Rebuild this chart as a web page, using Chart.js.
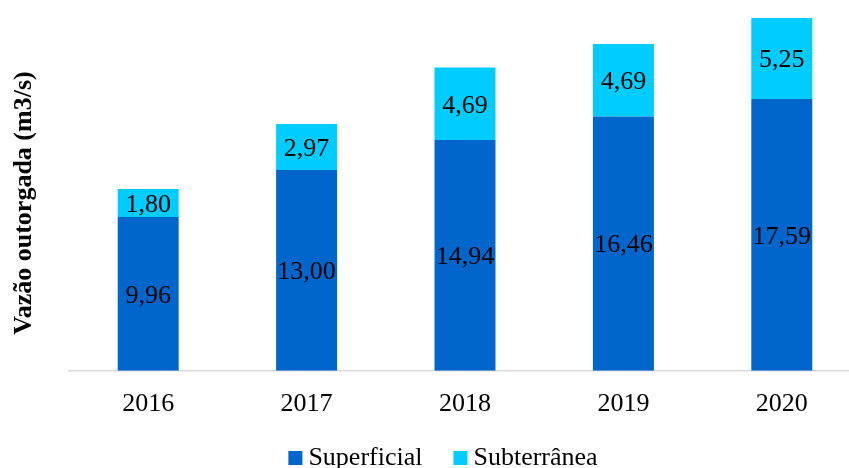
<!DOCTYPE html>
<html lang="pt">
<head>
  <meta charset="UTF-8" />
  <title>Vazão outorgada por ano</title>
  <script src="https://cdn.jsdelivr.net/npm/chart.js"></script>
  <style>
    html, body {
      margin: 0;
      padding: 0;
      background: #fff;
      overflow: hidden;
    }
    #chartBox {
      position: absolute;
      left: 0;
      top: 0;
    }
  </style>
</head>
<body>
  <div id="chartBox">
    <canvas id="vazaoChart" width="870" height="480"></canvas>
  </div>
  <script>
    // Dados (m3/s)
    const anos = ['2016', '2017', '2018', '2019', '2020'];
    const superficial = [9.96, 13.00, 14.94, 16.46, 17.59];
    const subterranea = [1.80, 2.97, 4.69, 4.69, 5.25];
    const serieNomes = ['Superficial', 'Subterrânea'];
    const serieCores = ['#0066CC', '#00CCFF'];
    const eixoTitulo = 'Vazão outorgada (m3/s)';

    const FONTE = '"Liberation Serif", "Times New Roman", serif';

    const fmt = v => v.toFixed(2).replace('.', ',');

    // rótulos de valor no centro de cada segmento
    const rotulosPlugin = {
      id: 'rotulos',
      afterDatasetsDraw(chart) {
        const ctx = chart.ctx;
        ctx.save();
        ctx.font = '26px ' + FONTE;
        ctx.fillStyle = '#000';
        ctx.textAlign = 'center';
        ctx.textBaseline = 'middle';
        chart.data.datasets.forEach((ds, i) => {
          chart.getDatasetMeta(i).data.forEach((bar, j) => {
            const p = bar.getProps(['x', 'y', 'base'], true);
            ctx.fillText(fmt(ds.data[j]), p.x, (p.y + p.base) / 2 + 2);
          });
        });
        ctx.restore();
      }
    };

    // título do eixo vertical e legenda inferior
    const extrasPlugin = {
      id: 'extras',
      afterDraw(chart) {
        const ctx = chart.ctx;
        ctx.save();
        ctx.fillStyle = '#000';
        ctx.font = 'bold 26px ' + FONTE;
        ctx.textAlign = 'center';
        ctx.textBaseline = 'middle';
        ctx.translate(24, 203);
        ctx.rotate(-Math.PI / 2);
        ctx.fillText(eixoTitulo, 0, 0);
        ctx.restore();

        ctx.save();
        ctx.font = '26px ' + FONTE;
        ctx.textBaseline = 'alphabetic';
        ctx.textAlign = 'left';
        const box = 14, gapTexto = 6, gapItem = 31;
        const larguras = serieNomes.map(n => box + gapTexto + ctx.measureText(n).width);
        const total = larguras.reduce((a, b) => a + b, 0) + gapItem * (serieNomes.length - 1);
        let x = 443 - total / 2;
        serieNomes.forEach((nome, i) => {
          ctx.fillStyle = serieCores[i];
          ctx.fillRect(x, 451, box, box);
          ctx.fillStyle = '#000';
          ctx.fillText(nome, x + box + gapTexto, 465);
          x += larguras[i] + gapItem;
        });
        ctx.restore();
      }
    };

    new Chart(document.getElementById('vazaoChart'), {
      type: 'bar',
      data: {
        labels: anos,
        datasets: [
          {
            label: serieNomes[0],
            data: superficial,
            backgroundColor: serieCores[0],
            barPercentage: 0.385,
            categoryPercentage: 1
          },
          {
            label: serieNomes[1],
            data: subterranea,
            backgroundColor: serieCores[1],
            barPercentage: 0.385,
            categoryPercentage: 1
          }
        ]
      },
      options: {
        responsive: false,
        animation: false,
        layout: {
          padding: { left: 69, right: 9, top: 0, bottom: 42 }
        },
        plugins: {
          legend: { display: false },
          tooltip: { enabled: false }
        },
        scales: {
          x: {
            stacked: true,
            grid: { display: false, drawTicks: false },
            border: { display: true, color: '#D9D9D9', width: 1.5 },
            ticks: {
              color: '#000',
              padding: 18,
              font: { family: FONTE, size: 26 }
            }
          },
          y: {
            stacked: true,
            display: false,
            min: 0,
            max: 24
          }
        }
      },
      plugins: [rotulosPlugin, extrasPlugin]
    });
  </script>
</body>
</html>
